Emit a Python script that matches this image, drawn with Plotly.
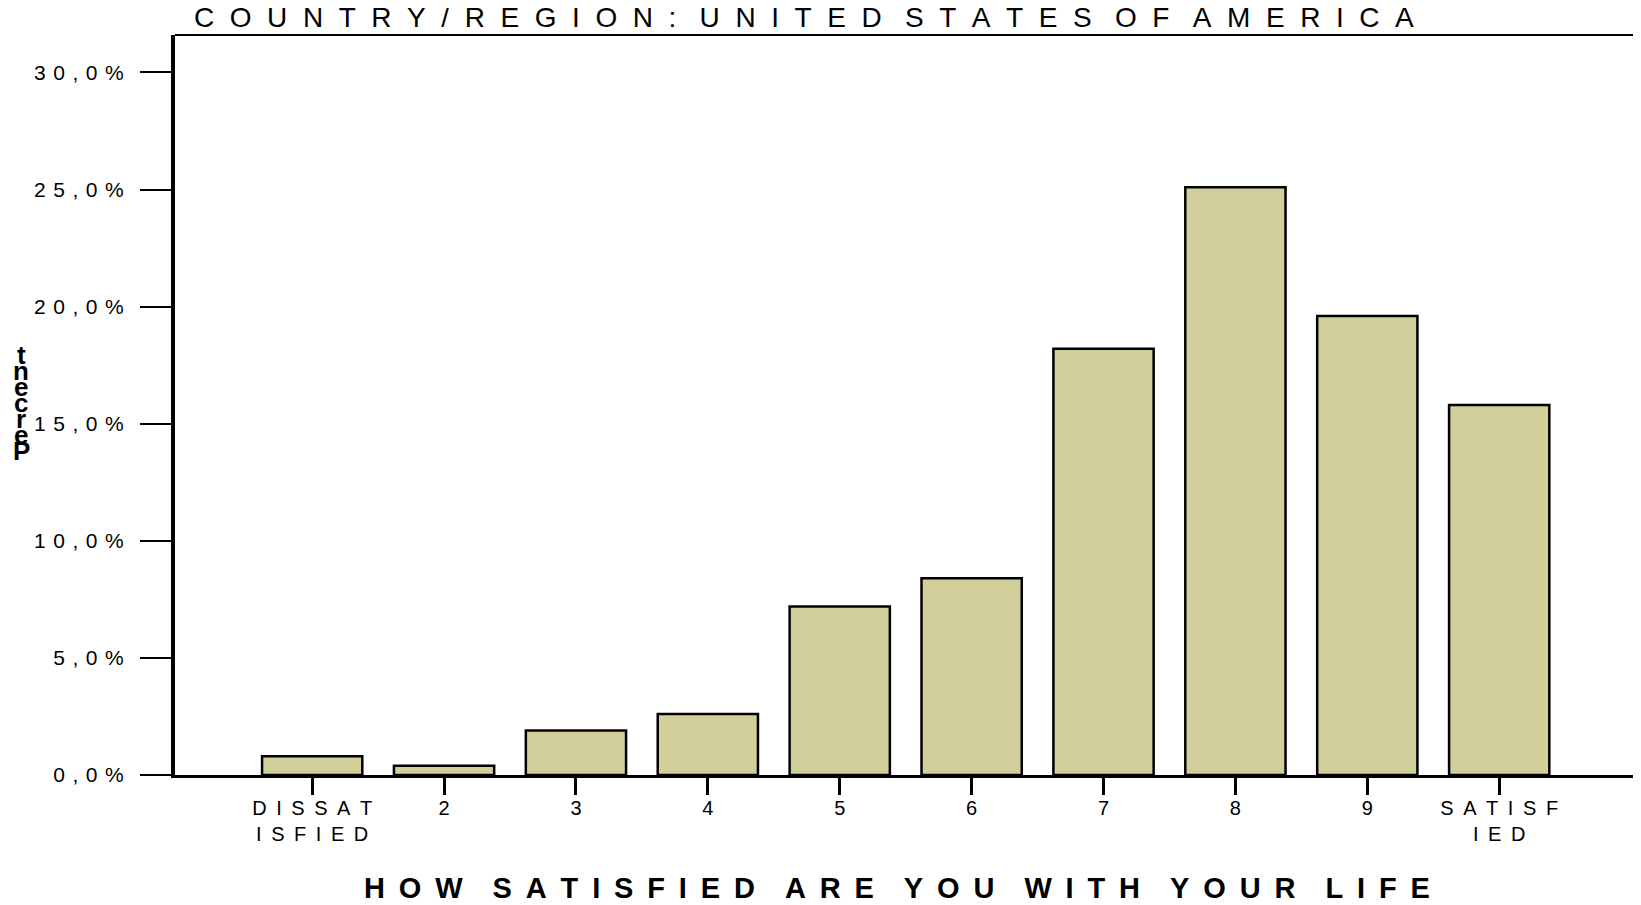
import plotly.graph_objects as go

# data
categories = ["DISSATISFIED", "2", "3", "4", "5", "6", "7", "8", "9", "SATISFIED"]
tick_lines = [["DISSAT", "ISFIED"], ["2"], ["3"], ["4"], ["5"], ["6"], ["7"], ["8"], ["9"], ["SATISF", "IED"]]
percent = [0.8, 0.4, 1.9, 2.6, 7.2, 8.4, 18.2, 25.1, 19.6, 15.8]
y_ticks = [0, 5, 10, 15, 20, 25, 30]
title_text = "COUNTRY/REGION: UNITED STATES OF AMERICA"
x_title = "HOW SATISFIED ARE YOU WITH YOUR LIFE"
y_title = "Percent"

FONT = "Liberation Sans Narrow, Liberation Sans, Arial, sans-serif"
NB = "\u00a0"
THIN = "\u2009"
HAIR = "\u200a"


def spread(text, gap=NB, word_gap=NB * 3):
    words = text.split(" ")
    return word_gap.join(gap.join(w) for w in words)


# the page body has an 8px margin, so the figure is a bit smaller than the window
OFF = 8
W, H = 1641 - OFF, 905 - OFF
ML, MR, MT, MB = 167, 2, 27, 130
PW, PH = W - ML - MR, H - MT - MB
BOTTOM = H - MB

x_pos = list(range(len(categories)))
tick_text = ["<br>".join(spread(l, NB + THIN) for l in lines) for lines in tick_lines]
y_text = [spread(f"{v:.1f}%".replace(".", ","), NB + HAIR) for v in y_ticks]

fig = go.Figure(go.Bar(
    x=x_pos, y=percent, width=0.76,
    marker=dict(color="#D3CF9A", line=dict(color="black", width=2.5)),
    hovertext=categories,
))

fig.update_layout(
    width=W, height=H,
    margin=dict(l=ML, r=MR, t=MT, b=MB),
    paper_bgcolor="white", plot_bgcolor="white",
    font=dict(family=FONT, color="black"),
    showlegend=False,
    title=dict(text=spread(title_text, NB * 2, NB * 3), x=186 / W, xanchor="left",
               y=1 - 9 / H, yanchor="middle", xref="container", yref="container",
               font=dict(size=28, family=FONT)),
)

fig.update_xaxes(
    range=[-1.04, 10.06], tickvals=x_pos, ticktext=tick_text,
    showgrid=False, zeroline=False,
    showline=True, linecolor="black", linewidth=2.5,
    ticks="outside", ticklen=17, tickwidth=3, tickcolor="black",
    tickfont=dict(size=20, family=FONT), ticklabelstandoff=-4,
)
fig.update_yaxes(
    range=[0, 31.6], tickvals=y_ticks, ticktext=y_text,
    showgrid=False, zeroline=False,
    showline=True, linecolor="black", linewidth=4,
    ticks="outside", ticklen=31, tickwidth=2, tickcolor="black",
    tickfont=dict(size=21, family=FONT), ticklabelstandoff=12,
)

# top and right frame lines
fig.add_shape(type="line", xref="paper", yref="paper", x0=0, x1=1, y0=1, y1=1,
              line=dict(color="black", width=2))
fig.add_shape(type="line", xref="paper", yref="paper", x0=1, x1=1, y0=0, y1=1,
              line=dict(color="black", width=2))

# x axis title
fig.add_annotation(text="<b>" + spread(x_title, NB + THIN, NB * 3 + THIN) + "</b>",
                   xref="paper", yref="paper",
                   x=(889 - ML) / PW, y=-(880 - BOTTOM) / PH, showarrow=False,
                   xanchor="center", yanchor="middle", font=dict(size=29, family=FONT))

# y axis title: upright letters stacked bottom-to-top, overlapping
for i, ch in enumerate(reversed(y_title)):
    cy = 347 + 16 * i
    fig.add_annotation(text="<b>" + ch + "</b>", xref="paper", yref="paper",
                       x=(13 - ML) / PW, y=(BOTTOM - cy) / PH, showarrow=False,
                       xanchor="center", yanchor="middle",
                       font=dict(size=26, family="Liberation Sans, Arial, sans-serif"))

fig.write_html("out.html")
